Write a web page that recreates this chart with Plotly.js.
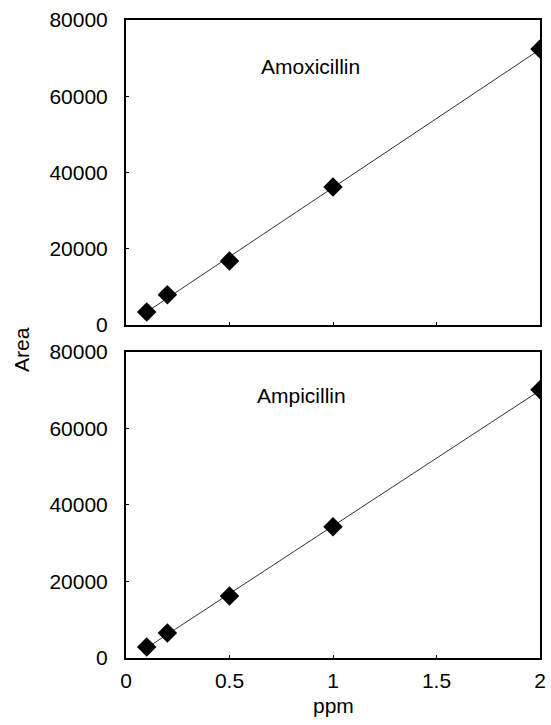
<!DOCTYPE html>
<html><head><meta charset="utf-8">
<script src="https://cdn.plot.ly/plotly-3.0.1.min.js"></script>
<style>body{margin:0;background:#fff}#c{width:551px;height:725px}</style>
</head><body><div id="c"></div>
<script>
const ppm = [0.1, 0.2, 0.5, 1.0, 2.0];
const amoxArea = [3400, 7900, 16800, 36200, 72400];
const ampiArea = [2900, 6500, 16200, 34300, 70100];
const xTicks = [0, 0.5, 1, 1.5, 2];
const xTickText = ['0', '0.5', '1', '1.5', '2'];
const yTicks = [0, 20000, 40000, 60000, 80000];
const yTickText = ['0', '20000', '40000', '60000', '80000'];

function fit(x, y) {
  const n = x.length;
  const mx = x.reduce((a,b)=>a+b,0)/n, my = y.reduce((a,b)=>a+b,0)/n;
  let sxy=0, sxx=0;
  for (let i=0;i<n;i++){sxy+=(x[i]-mx)*(y[i]-my);sxx+=(x[i]-mx)**2;}
  const m = sxy/sxx, b = my - m*mx;
  const xs = [x[0], x[n-1]];
  return {x: xs, y: xs.map(v=>m*v+b)};
}
const f1 = fit(ppm, amoxArea), f2 = fit(ppm, ampiArea);
const mk = {symbol:'diamond', size:15, color:'#000'};
const data = [
  {x:f1.x, y:f1.y, mode:'lines', line:{color:'#333', width:1}, xaxis:'x', yaxis:'y', hoverinfo:'skip'},
  {x:ppm, y:amoxArea, mode:'markers', marker:mk, xaxis:'x', yaxis:'y'},
  {x:f2.x, y:f2.y, mode:'lines', line:{color:'#333', width:1}, xaxis:'x2', yaxis:'y2', hoverinfo:'skip'},
  {x:ppm, y:ampiArea, mode:'markers', marker:mk, xaxis:'x2', yaxis:'y2'}
];
const fnt = {family:'"Liberation Sans", Arial, sans-serif', size:21, color:'#000'};
const axBase = {showgrid:false, zeroline:false, showline:true, linecolor:'#000', linewidth:2, mirror:true,
  ticks:'inside', ticklen:3, tickcolor:'#000', tickfont:fnt};
const layout = {
  width:551, height:725, showlegend:false,
  paper_bgcolor:'#fff', plot_bgcolor:'#fff',
  margin:{l:126, r:11, t:20, b:67},
  font:fnt,
  xaxis: Object.assign({}, axBase, {domain:[0,1], range:[0,2], tickvals:xTicks, ticktext:xTickText, showticklabels:false, anchor:'y'}),
  yaxis: Object.assign({}, axBase, {domain:[0.522,1], range:[0,80000], tickvals:yTicks, ticktext:yTickText, anchor:'x', ticklabelstandoff:12}),
  xaxis2: Object.assign({}, axBase, {domain:[0,1], range:[0,2], tickvals:xTicks, ticktext:xTickText, anchor:'y2', ticklabelstandoff:3}),
  yaxis2: Object.assign({}, axBase, {domain:[0,0.48], range:[0,80000], tickvals:yTicks, ticktext:yTickText, anchor:'x2', ticklabelstandoff:12}),
  annotations:[
    {text:'Amoxicillin', xref:'x', yref:'y', x:0.89, y:67900, showarrow:false, font:Object.assign({},fnt,{size:21})},
    {text:'Ampicillin', xref:'x2', yref:'y2', x:0.846, y:68500, showarrow:false, font:Object.assign({},fnt,{size:21})},
    {text:'ppm', xref:'paper', yref:'paper', x:0.5, y:-0.075, yanchor:'middle', showarrow:false, font:fnt},
    {text:'Area', xref:'paper', yref:'paper', x:-0.251, y:0.483, xanchor:'center', textangle:-90, showarrow:false, font:fnt}
  ]
};
Plotly.newPlot('c', data, layout, {staticPlot:true});
</script></body></html>
